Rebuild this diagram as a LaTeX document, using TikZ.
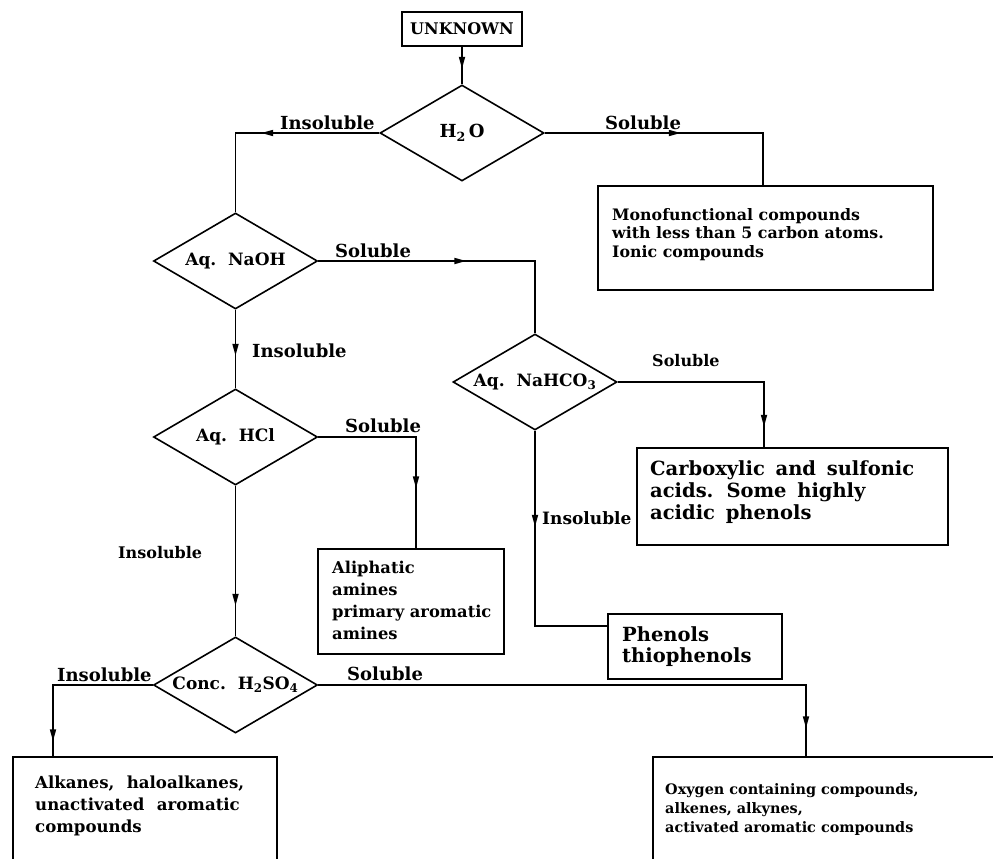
\documentclass[tikz,border=0pt]{standalone}
\usepackage{fontspec}
\setmainfont{DejaVu Serif}
\usetikzlibrary{shapes.geometric,arrows.meta,decorations.markings}
\newcommand\widespA{\spaceskip=0.55em\relax}
\newcommand\widespB{\spaceskip=0.75em\relax}
\begin{document}
\begin{tikzpicture}[x=1pt,y=-1pt,
  ln/.style={line width=1.7pt},
  dia/.style={draw, diamond, line width=1.6pt, inner sep=0pt, minimum width=164pt, minimum height=96pt, font=\bfseries\fontsize{17}{20}\selectfont},
  boxst/.style={draw, rectangle, line width=1.6pt, inner sep=0pt, anchor=north west},
  txt/.style={inner sep=0pt, align=left, anchor=north west},
  lab/.style={inner sep=0pt, anchor=base west, font=\bfseries\fontsize{18}{20}\selectfont},
  slab/.style={inner sep=0pt, anchor=base west, font=\bfseries\fontsize{16}{18}\selectfont},
  flow/.style={ln, postaction={decorate}, decoration={markings, mark=at position #1 with {\arrow{Triangle[length=12pt,width=6pt]}}}}
]
\useasboundingbox (0,0) rectangle (993,859);
\clip (0,0) rectangle (993,859);

% decision nodes
\node[draw, line width=1.6pt, minimum width=120pt, minimum height=34pt, inner sep=0pt, font=\bfseries\fontsize{16}{18}\selectfont] (unk) at (462,29) {UNKNOWN};
\node[dia, font=\bfseries\fontsize{18}{20}\selectfont] (h2o) at (462,133) {\makebox[0pt]{H\textsubscript{2}\,O}};
\node[dia] (naoh) at (235.5,261) {\makebox[0pt]{Aq.\ \ NaOH}};
\node[dia] (nahco) at (535,382) {\makebox[0pt]{Aq.\ \ NaHCO\textsubscript{3}}};
\node[dia] (hcl) at (235.5,437) {\makebox[0pt]{Aq.\ \ HCl}};
\node[dia] (h2so) at (235.5,685) {\makebox[0pt]{Conc.\ \ H\textsubscript{2}SO\textsubscript{4}}};

% result boxes
\node[boxst, minimum width=335pt, minimum height=104pt] (mono) at (597,185) {};
\node[txt, font=\bfseries\fontsize{15.8}{18.5}\selectfont] (monot) at (612,208) {Monofunctional compounds\\with less than 5 carbon atoms.\\Ionic compounds};

\node[boxst, minimum width=311pt, minimum height=97pt] (carb) at (636,447) {};
\node[txt, font=\bfseries\fontsize{19.5}{22}\selectfont\widespA] (carbt) at (650,460.2) {Carboxylic and sulfonic\\acids. Some highly\\acidic phenols};

\node[boxst, minimum width=186pt, minimum height=105pt] (aliph) at (317,548) {};
\node[txt, font=\bfseries\fontsize{16.3}{22}\selectfont] (aliphat) at (332,560.6) {Aliphatic\\amines\\primary aromatic\\amines};

\node[boxst, minimum width=174pt, minimum height=65pt] (phen) at (607,613) {};
\node[txt, font=\bfseries\fontsize{19.5}{21}\selectfont] (phent) at (622,626.2) {Phenols\\thiophenols};

\node[boxst, minimum width=264pt, minimum height=130pt] (alk) at (12,756) {};
\node[txt, font=\bfseries\fontsize{16.6}{22}\selectfont\widespB] (alkt) at (35,775.4) {Alkanes, haloalkanes,\\unactivated aromatic\\compounds};

\node[boxst, minimum width=360pt, minimum height=130pt] (oxy) at (652,756) {};
\node[txt, font=\bfseries\fontsize{14.4}{19}\selectfont] (oxyt) at (665,783) {Oxygen containing compounds,\\alkenes, alkynes,\\activated aromatic compounds};

% connectors
\draw[flow=22pt] (unk.south) -- (h2o.north);
\draw[flow=118pt] (h2o.west) -| (naoh.north);
\draw[flow=136pt] (h2o.east) -| ([xshift=166pt]mono.north west);
\draw[flow=148pt] (naoh.east) -| (nahco.north);
\draw[flow=46pt] (naoh.south) -- (hcl.north);
\draw[flow=191pt] (nahco.east) -| ([xshift=128pt]carb.north west);
\draw[flow=96pt] (nahco.south) |- ([yshift=-13pt]phen.north west);
\draw[flow=149pt] (hcl.east) -| ([xshift=99pt]aliph.north west);
\draw[flow=120pt] (hcl.south) -- (h2so.north);
\draw[flow=156pt] (h2so.west) -| ([xshift=41pt]alk.north west);
\draw[flow=531pt] (h2so.east) -| ([xshift=154pt]oxy.north west);

% edge labels
\node[lab] (l1) at (280,129) {Insoluble};
\node[lab] (l2) at (605,129) {Soluble};
\node[lab] (l3) at (335,257) {Soluble};
\node[lab] (l4) at (252,357) {Insoluble};
\node[slab] (l5) at (652,366) {Soluble};
\node[slab, font=\bfseries\fontsize{17}{18}\selectfont] (l6) at (542,524) {Insoluble};
\node[lab] (l7) at (345,432) {Soluble};
\node[slab] (l8) at (118,558) {Insoluble};
\node[lab] (l9) at (57,681) {Insoluble};
\node[lab] (l10) at (347,680) {Soluble};
\end{tikzpicture}
\end{document}
